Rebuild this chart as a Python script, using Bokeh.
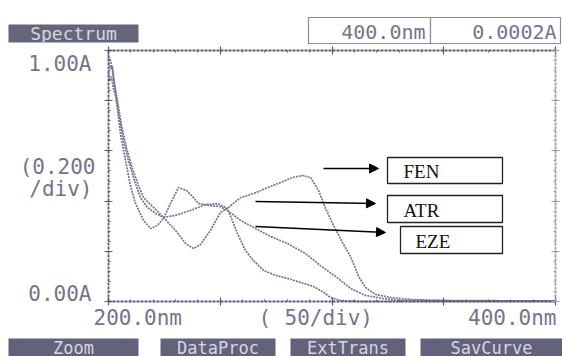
from bokeh.plotting import figure
from bokeh.models import (Range1d, LinearAxis, FixedTicker, Label, BoxAnnotation,
                          Arrow, NormalHead, CustomJSTickFormatter)
from bokeh.embed import file_html
from bokeh.resources import INLINE

# ---------------- data ----------------
fen_nm = [200.0, 200.4, 201.3, 202.2, 203.1, 204.9, 206.7, 208.9, 211.6, 214.3, 217.4, 221.0,
          224.6, 230.0, 234.5, 238.0, 241.2, 245.6, 250.1, 253.2, 259.1, 264.9, 270.2, 277.0,
          282.3, 286.8, 290.4, 294.0, 297.1, 300.7, 304.7, 308.3, 311.9, 315.0, 319.5, 326.2,
          335.1, 353.0, 400.0]
fen_abs = [0.912, 0.880, 0.896, 0.849, 0.821, 0.729, 0.641, 0.562, 0.482, 0.414, 0.375, 0.351,
           0.335, 0.283, 0.231, 0.211, 0.227, 0.283, 0.355, 0.371, 0.414, 0.430, 0.450, 0.474,
           0.494, 0.502, 0.494, 0.442, 0.371, 0.303, 0.235, 0.179, 0.100, 0.056, 0.028, 0.016,
           0.008, 0.004, 0.002]

atr_nm = [200.0, 200.9, 201.8, 202.2, 204.0, 205.8, 208.1, 210.7, 213.4, 215.7, 220.1, 224.6,
          230.0, 236.7, 243.4, 248.8, 253.2, 257.7, 261.3, 264.9, 269.4, 274.7, 280.1, 285.9,
          291.7, 295.7, 299.3, 303.8, 312.8, 400.0]
atr_abs = [0.976, 0.960, 0.920, 0.888, 0.801, 0.701, 0.610, 0.530, 0.462, 0.414, 0.375, 0.335,
           0.343, 0.363, 0.386, 0.390, 0.371, 0.271, 0.203, 0.163, 0.124, 0.104, 0.092, 0.076,
           0.060, 0.040, 0.016, 0.004, 0.000, 0.000]

eze_nm = [200.0, 200.9, 201.8, 202.7, 204.0, 205.4, 207.6, 209.8, 212.1, 215.7, 218.8, 221.9,
          224.6, 227.7, 231.3, 234.9, 237.6, 240.3, 245.6, 250.1, 253.2, 259.1, 264.9, 272.5,
          280.1, 288.1, 294.8, 301.6, 308.3, 315.0, 323.0, 330.6, 353.0, 400.0]
eze_abs = [0.952, 0.928, 0.936, 0.865, 0.769, 0.665, 0.562, 0.462, 0.390, 0.323, 0.291, 0.303,
           0.331, 0.390, 0.454, 0.442, 0.418, 0.390, 0.382, 0.378, 0.363, 0.323, 0.295, 0.259,
           0.231, 0.191, 0.143, 0.100, 0.052, 0.024, 0.012, 0.004, 0.002, 0.002]

x_ticks = [200, 250, 300, 350, 400]
x_minor = [210, 220, 230, 240, 260, 270, 280, 290, 310, 320, 330, 340, 360, 370, 380, 390]
y_ticks = [0.0, 0.2, 0.4, 0.6, 0.8, 1.0]
y_minor = [0.04, 0.08, 0.12, 0.16, 0.24, 0.28, 0.32, 0.36, 0.44, 0.48, 0.52, 0.56,
           0.64, 0.68, 0.72, 0.76, 0.84, 0.88, 0.92, 0.96]

# ---------------- layout (pixel positions of the instrument screen) ----------------
W, H = 562, 356
PL, PR, PT, PB = 108, 555, 50, 301          # plot box on the screen
X0, X1, Y0, Y1 = 200.0, 400.0, 0.0, 1.0     # 200-400 nm, 0-1 A


def dx(px):
    return X0 + (px - PL) * (X1 - X0) / (PR - PL)


def dy(py):
    return Y0 + (PB - py) * (Y1 - Y0) / (PB - PT)


p = figure(width=W, height=H, output_backend="svg", toolbar_location=None,
           x_range=Range1d(dx(0), dx(W)), y_range=Range1d(dy(H), dy(0)),
           x_axis_location=None, y_axis_location=None,
           min_border_left=0, min_border_right=0,
           min_border_top=0, min_border_bottom=0)
p.grid.visible = False
p.outline_line_color = None
p.background_fill_color = "white"
p.border_fill_color = "white"

AX = "#5a5a6e"


def style_axis(ax, color, ticks, minor):
    ax.ticker = FixedTicker(ticks=ticks, minor_ticks=minor)
    ax.axis_line_color = color
    ax.axis_line_width = 1.8
    ax.axis_line_dash = "3 1"
    ax.major_tick_line_color = color
    ax.major_tick_line_width = 1.2
    ax.major_tick_in = 4
    ax.major_tick_out = 4
    ax.minor_tick_line_color = color
    ax.minor_tick_in = 2
    ax.minor_tick_out = 0
    ax.formatter = CustomJSTickFormatter(code="return ''")
    ax.major_label_text_font_size = "0px"
    ax.major_label_standoff = 0


left = LinearAxis(fixed_location=X0, bounds=(Y0, Y1))
style_axis(left, AX, y_ticks, y_minor)
p.add_layout(left, "left")
right = LinearAxis(fixed_location=X1, bounds=(Y0, Y1))
style_axis(right, "#9a9aaa", y_ticks, y_minor)
p.add_layout(right, "right")
bottom = LinearAxis(fixed_location=Y0, bounds=(X0, X1))
style_axis(bottom, AX, x_ticks, x_minor)
p.add_layout(bottom, "below")
top = LinearAxis(fixed_location=Y1, bounds=(X0, X1))
style_axis(top, AX, x_ticks, x_minor)
p.add_layout(top, "above")

# ---------------- spectra ----------------
CURVE = "#74748a"
for xs, ys in [(fen_nm, fen_abs), (atr_nm, atr_abs), (eze_nm, eze_abs)]:
    p.line(xs, ys, line_color=CURVE, line_width=1.7, line_dash="2 1")

# ---------------- instrument texts ----------------
MONO = "DejaVu Sans Mono"
TXT = "#74748a"


def lab(text, px, py, align="left", size="21px", color=TXT, font=MONO):
    p.add_layout(Label(x=dx(px), y=dy(py), text=text, text_align=align,
                       text_baseline="middle", text_font=font,
                       text_font_size=size, text_color=color, level="overlay"))


def box(l, r, t, b, fill, line=None, lw=1.0):
    p.add_layout(BoxAnnotation(left=dx(l), right=dx(r), top=dy(t), bottom=dy(b),
                               fill_color=fill, fill_alpha=1.0,
                               line_color=line, line_width=lw, line_alpha=1.0,
                               level="overlay", editable=False))


# header
box(8, 138, 24, 42, "#66667a")
lab("Spectrum", 73, 33, align="center", size="18px", color="#d6d6e0")
box(308, 430, 17, 43, "white", line="#8a8a98", lw=1.2)
box(430, 560, 17, 43, "white", line="#8a8a98", lw=1.2)
lab("400.0nm", 425, 31, align="right", size="20px")
lab("0.0002A", 556, 31, align="right", size="20px")

# y labels
lab("1.00A", 91, 63, align="right")
lab("(0.200", 95, 166, align="right")
lab("/div)", 92, 188, align="right")
lab("0.00A", 91, 293, align="right")

# x labels
lab("200.0nm", 93, 317)
lab("(", 258, 317)
lab("50/div)", 284, 317)
lab("400.0nm", 556, 317, align="right")

# bottom buttons
for name, l, r in [("Zoom", 8, 138), ("DataProc", 160, 275),
                   ("ExtTrans", 290, 405), ("SavCurve", 420, 562)]:
    box(l, r, 338, 360, "#62627a")
    lab(name, (l + r) / 2, 347, align="center", size="17px", color="#d6d6e0")

# ---------------- legend boxes with arrows ----------------
SERIF = "Liberation Serif"
for name, (l, r, t, b), tx, (xs, ys, xe, ye) in [
        ("FEN", (387, 502, 157, 183), 403, (323, 168, 378, 168)),
        ("ATR", (387, 502, 195, 222), 403, (255, 201, 375, 203)),
        ("EZE", (400, 502, 226, 253), 415, (255, 226, 385, 232))]:
    box(l, r, t, b, "white", line="#222222", lw=1.3)
    lab(name, tx, (t + b) / 2 + 1, size="19px", color="#111111", font=SERIF)
    p.add_layout(Arrow(end=NormalHead(size=9, fill_color="black", line_color="black"),
                       x_start=dx(xs), y_start=dy(ys), x_end=dx(xe), y_end=dy(ye),
                       line_color="black", line_width=1.5, level="overlay"))

open("out.html", "w").write(file_html(p, INLINE))
